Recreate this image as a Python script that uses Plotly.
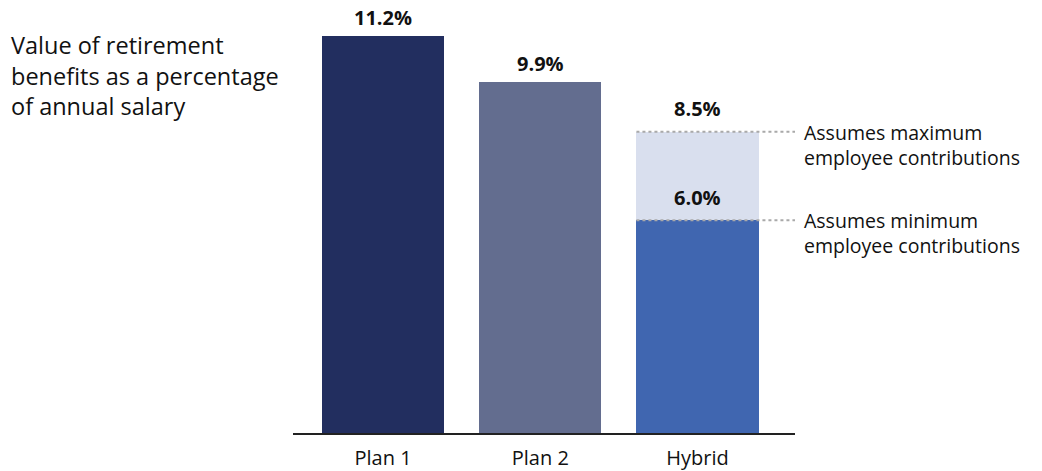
import plotly.graph_objects as go

categories = ["Plan 1", "Plan 2", "Hybrid"]
base_values = [11.2, 9.9, 6.0]
extra_values = [0, 0, 2.5]
total_values = [11.2, 9.9, 8.5]
base_colors = ["#222E5F", "#636D8F", "#4066B0"]
extra_color = "#D9DFEE"
value_labels = ["11.2%", "9.9%", "8.5%"]
hybrid_min_label = "6.0%"
note_max = ["Assumes maximum", "employee contributions"]
note_min = ["Assumes minimum", "employee contributions"]
title_lines = ["Value of retirement", "benefits as a percentage", "of annual salary"]

FONT = "Open Sans"
bargap = 0.223
half = (1 - bargap) / 2
label_shift = [18, 19, 23]

fig = go.Figure()
fig.add_trace(go.Bar(x=categories, y=base_values, marker=dict(color=base_colors, line=dict(width=0)),
                     hoverinfo="skip"))
fig.add_trace(go.Bar(x=categories, y=extra_values, marker=dict(color=extra_color, line=dict(width=0)),
                     hoverinfo="skip"))

for c, t, lab, s in zip(categories, total_values, value_labels, label_shift):
    fig.add_annotation(x=c, y=t, text=f"<b>{lab}</b>", showarrow=False, yanchor="middle",
                       yshift=s, font=dict(family=FONT, size=20, color="#111"))
fig.add_annotation(x=categories[2], y=base_values[2], text=f"<b>{hybrid_min_label}</b>", showarrow=False,
                   yanchor="middle", yshift=23, font=dict(family=FONT, size=20, color="#111"))

hyb = 2
for yv, note in [(total_values[2], note_max), (base_values[2], note_min)]:
    fig.add_shape(type="line", xref="x", yref="y", x0=hyb - half, x1=2.62, y0=yv, y1=yv,
                  line=dict(color="#A9A9A9", width=2, dash="dot"), layer="above")
    fig.add_annotation(x=2.62, y=yv, text="<br>".join(note), showarrow=False, xanchor="left",
                       yanchor="top", xshift=8, yshift=14, align="left", borderpad=0,
                       font=dict(family=FONT, size=19.5, color="#111"))

fig.add_annotation(xref="paper", yref="paper", x=10/1042, y=1.0, yshift=-18, text="<br>".join(title_lines),
                   showarrow=False, xanchor="left", yanchor="top", align="left", borderpad=0,
                   font=dict(family=FONT, size=23.5, color="#111"))

fig.update_layout(
    width=1042, height=471,
    barmode="stack", bargap=bargap, showlegend=False,
    plot_bgcolor="white", paper_bgcolor="white",
    margin=dict(l=0, r=0, t=10, b=38),
    xaxis=dict(domain=[293/1042, 795/1042], range=[-0.573, 2.62], showline=True, linecolor="#222",
               linewidth=2, ticks="", ticklabelstandoff=6,
               tickfont=dict(family=FONT, size=20, color="#111"), showgrid=False),
    yaxis=dict(range=[0, 423/35.45], visible=False, showgrid=False, zeroline=False),
)
fig.write_html("out.html")
